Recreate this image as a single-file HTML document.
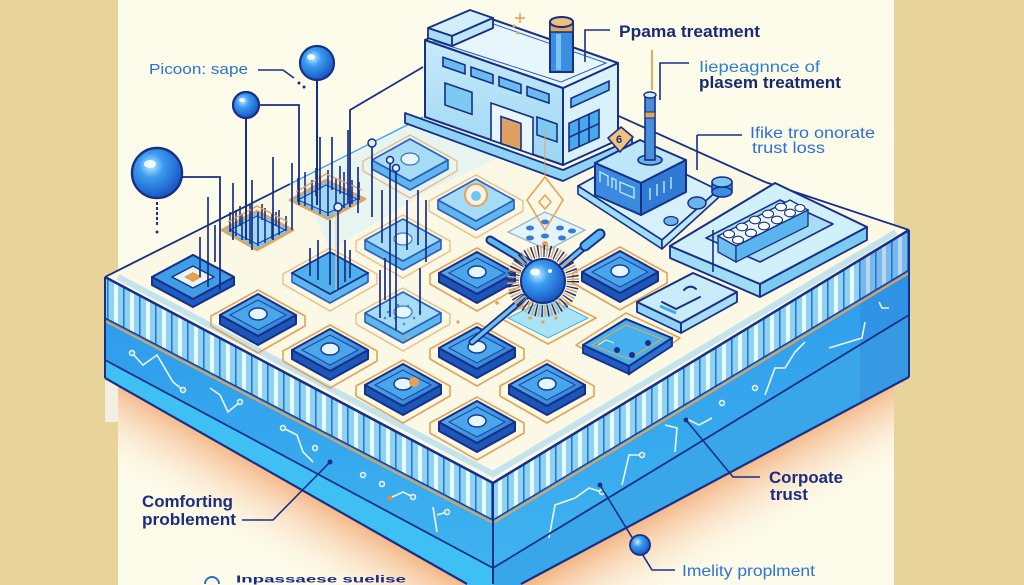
<!DOCTYPE html>
<html><head><meta charset="utf-8"><style>
html,body{margin:0;padding:0;background:#fdfbea;width:1024px;height:585px;overflow:hidden;}
svg{display:block;overflow:hidden}
text{font-family:"Liberation Sans",sans-serif;}
</style></head><body>
<svg width="1024" height="585" viewBox="0 0 1024 585" xmlns="http://www.w3.org/2000/svg">
<defs>
 <pattern id="stripes" patternUnits="userSpaceOnUse" width="16" height="20">
   <rect width="16" height="20" fill="#8fd3f3"/>
   <rect x="2" width="4" height="20" fill="#e8f8fd"/>
   <rect x="11" width="1.6" height="20" fill="#2a78d6"/>
 </pattern>
 <linearGradient id="band" x1="0" y1="0" x2="0" y2="1">
   <stop offset="0" stop-color="#2e9cec"/><stop offset="1" stop-color="#3fb4f0"/>
 </linearGradient>
 <linearGradient id="shL" gradientUnits="userSpaceOnUse" x1="300" y1="489" x2="260" y2="558">
   <stop offset="0" stop-color="#f4b88a"/><stop offset="1" stop-color="#fdfbea" stop-opacity="0"/>
 </linearGradient>
 <linearGradient id="shR" gradientUnits="userSpaceOnUse" x1="700" y1="489" x2="738" y2="558">
   <stop offset="0" stop-color="#f4b88a"/><stop offset="1" stop-color="#fdfbea" stop-opacity="0"/>
 </linearGradient>
 <linearGradient id="tileTop" x1="0" y1="0" x2="1" y2="1">
   <stop offset="0" stop-color="#62b8f0"/><stop offset="1" stop-color="#2a78d4"/>
 </linearGradient>
 <linearGradient id="bldL" x1="0" y1="0" x2="0" y2="1">
   <stop offset="0" stop-color="#c6eafa"/><stop offset="1" stop-color="#9cd6f4"/>
 </linearGradient>
 <radialGradient id="sph" cx="0.38" cy="0.35" r="0.7">
   <stop offset="0" stop-color="#c6ecff"/><stop offset="0.35" stop-color="#3a9cf0"/><stop offset="1" stop-color="#1550c0"/>
 </radialGradient>
 <g id="tile">
  <polygon points="-47,1 0,-25 47,1 47,11 0,38 -47,11" fill="none" stroke="#e2a35a" stroke-width="1.6" stroke-linejoin="round"/>
  <polygon points="-38,0 0,21 38,0 38,9 0,30 -38,9" fill="#1b56b8" stroke="#172f86" stroke-width="2" stroke-linejoin="round"/>
  <polygon points="-38,0 0,-21 38,0 0,21" fill="url(#tileTop)" stroke="#172f86" stroke-width="2" stroke-linejoin="round"/>
  <polygon points="-28,0 0,-15 28,0 0,15" fill="#4aa6ea" stroke="#1d4aa8" stroke-width="1.2"/>
  <ellipse cx="0" cy="-1" rx="9" ry="6" fill="#e6f6ff" stroke="#1a3b9a" stroke-width="1.5"/>
 </g>
 <g id="ltile">
  <polygon points="-47,1 0,-25 47,1 47,11 0,38 -47,11" fill="none" stroke="#e8b070" stroke-width="1.4" stroke-linejoin="round" opacity="0.8"/>
  <polygon points="-38,0 0,21 38,0 38,9 0,30 -38,9" fill="#5fb6ec" stroke="#2a5cc0" stroke-width="1.6" stroke-linejoin="round"/>
  <polygon points="-38,0 0,-21 38,0 0,21" fill="#a6dcf5" stroke="#2a5cc0" stroke-width="1.6" stroke-linejoin="round"/>
  <ellipse cx="0" cy="-1" rx="9" ry="6" fill="#e8f7ff" stroke="#3a72c8" stroke-width="1.2"/>
 </g>
</defs>

<rect width="1024" height="585" fill="#fdfbea"/>
<polygon points="105,378 467,585 250,585 105,490" fill="url(#shL)"/>
<polygon points="521,585 909,377 909,490 730,585" fill="url(#shR)"/>
<rect x="0" y="0" width="118" height="585" fill="#e8d39b"/>
<rect x="894" y="0" width="130" height="585" fill="#e8d39b"/>
<rect x="105" y="376" width="13" height="46" fill="#f4eee0"/>

<polygon points="105,277 493,483 493,520 105,318" fill="url(#stripes)"/>
<polygon points="493,483 909,230 909,270 493,520" fill="url(#stripes)"/>
<polygon points="105,318 493,520 493,585 467,585 105,378" fill="url(#band)"/>
<polygon points="493,520 909,270 909,377 521,585 493,585" fill="url(#band)"/>
<polygon points="105,360 493,568 493,585 467,585 105,378" fill="#3fc0f4"/>
<polygon points="493,568 909,315 909,377 521,585 493,585" fill="#3aa6ea"/>
<polygon points="860,258 909,230 909,377 860,403" fill="#2f6fd0" opacity="0.25"/>
<g fill="none" stroke="#ffffff" stroke-width="1.6" opacity="0.9">
 <polyline points="132,353 143,365 157,355 173,382 183,390"/>
 <polyline points="210,388 220,395 228,412 240,402"/>
 <polyline points="283,428 297,435 303,452 313,462"/>
 <polyline points="390,498 403,492 413,497"/>
 <polyline points="433,507 437,532"/><polyline points="437,515 447,512"/>
 <polyline points="549,538 555,505 575,498 589,488 602,492"/>
 <polyline points="622,485 629,455 642,455"/>
 <polyline points="665,425 677,428 675,452"/>
 <polyline points="685,418 699,425 712,418"/>
 <polyline points="765,395 775,368 785,368 795,352 805,342"/>
 <polyline points="829,348 862,338 865,322"/>
 <polyline points="879,302 882,308 889,308"/>
</g>
<g fill="#3fb0f0" stroke="#ffffff" stroke-width="1.4">
 <circle cx="132" cy="353" r="2.5"/><circle cx="183" cy="390" r="2.5"/><circle cx="240" cy="402" r="2.5"/>
 <circle cx="283" cy="428" r="2.5"/><circle cx="315" cy="448" r="2.5"/><circle cx="363" cy="475" r="2.5"/>
 <circle cx="382" cy="484" r="2.5"/><circle cx="413" cy="497" r="2.5"/><circle cx="447" cy="512" r="2.5"/>
 <circle cx="642" cy="455" r="2.5"/><circle cx="722" cy="403" r="2.5"/><circle cx="755" cy="388" r="2.5"/>
 <circle cx="602" cy="492" r="2.5"/>
</g>
<circle cx="390" cy="498" r="2.5" fill="#e88a40"/>
<g fill="none" stroke-linejoin="round">
 <polyline points="105,318 493,520 909,270" stroke="#1b3a9a" stroke-width="1.4"/>
 <polyline points="105,321 493,523 909,273" stroke="#e0a35a" stroke-width="2"/>
 <polyline points="105,360 493,568 909,315" stroke="#172f86" stroke-width="1.8"/>
 <line x1="105" y1="378" x2="467" y2="584" stroke="#172f86" stroke-width="2.2"/>
 <line x1="521" y1="584" x2="909" y2="377" stroke="#172f86" stroke-width="2.2"/>
 <line x1="105" y1="277" x2="105" y2="378" stroke="#172f86" stroke-width="2"/>
 <line x1="493" y1="483" x2="493" y2="584" stroke="#172f86" stroke-width="2"/>
 <line x1="909" y1="230" x2="909" y2="377" stroke="#172f86" stroke-width="2"/>
</g>

<polygon points="105,277 423,117 470,95 560,75 612,113 765,182 909,230 493,483" fill="#fbf8e6"/>
<polygon points="300,183 423,117 470,95 560,75 600,110 430,190 330,250" fill="#d9f0f8" opacity="0.55"/>
<polyline points="118,277 493,474 896,232" fill="none" stroke="#9fd6f2" stroke-width="6" opacity="0.6"/>
<polyline points="105,277 493,483 909,230" fill="none" stroke="#172f86" stroke-width="2.5" stroke-linejoin="round"/>
<line x1="105" y1="277" x2="290" y2="184" stroke="#172f86" stroke-width="1.8"/>
<line x1="290" y1="184" x2="423" y2="117" stroke="#4aa6ea" stroke-width="1.5"/>
<line x1="612" y1="113" x2="765" y2="182" stroke="#172f86" stroke-width="1.8"/>
<line x1="765" y1="182" x2="909" y2="230" stroke="#172f86" stroke-width="1.8"/>

<polygon points="405,113 563,170 632,139 632,148 563,181 405,123" fill="#8fd2f4" stroke="#172f86" stroke-width="1.8" stroke-linejoin="round"/>
<polygon points="425,40 563,88 563,165 425,117" fill="url(#bldL)" stroke="#172f86" stroke-width="2" stroke-linejoin="round"/>
<polygon points="563,88 618,63 618,140 563,165" fill="#d8f1fb" stroke="#172f86" stroke-width="2" stroke-linejoin="round"/>
<polygon points="425,40 480,15 618,63 563,88" fill="#e6f6fc" stroke="#172f86" stroke-width="2" stroke-linejoin="round"/>
<polygon points="434,41 482,20 606,63 561,82" fill="none" stroke="#2a5cc0" stroke-width="1"/>
<polygon points="428,28 470,10 493,18 452,36" fill="#d0eefb" stroke="#172f86" stroke-width="1.8" stroke-linejoin="round"/>
<polygon points="428,28 452,36 452,46 428,38" fill="#a8dcf5" stroke="#172f86" stroke-width="1.8" stroke-linejoin="round"/>
<polygon points="452,36 493,18 493,28 452,46" fill="#bfe6f8" stroke="#172f86" stroke-width="1.8" stroke-linejoin="round"/>
<g transform="matrix(1,0.348,0,1,425,40)" stroke="#172f86" stroke-width="1.6">
 <rect x="18" y="11" width="22" height="9" fill="#6bbcee" vector-effect="non-scaling-stroke"/>
 <rect x="46" y="11" width="22" height="9" fill="#6bbcee" vector-effect="non-scaling-stroke"/>
 <rect x="74" y="11" width="22" height="9" fill="#6bbcee" vector-effect="non-scaling-stroke"/>
 <rect x="102" y="11" width="22" height="9" fill="#6bbcee" vector-effect="non-scaling-stroke"/>
 <rect x="20" y="36" width="27" height="22" fill="#7ccaf2" vector-effect="non-scaling-stroke"/>
 <rect x="66" y="40" width="42" height="37" fill="#e8f6fc" vector-effect="non-scaling-stroke"/>
 <rect x="76" y="50" width="20" height="27" fill="#e0a060" vector-effect="non-scaling-stroke"/>
 <rect x="112" y="38" width="20" height="18" fill="#7ccaf2" vector-effect="non-scaling-stroke"/>
</g>
<g transform="matrix(1,-0.4545,0,1,563,88)" stroke="#172f86" stroke-width="1.6">
 <rect x="8" y="14" width="38" height="9" fill="#6bbcee" vector-effect="non-scaling-stroke"/>
 <rect x="6" y="38" width="30" height="28" fill="#4aa8ec" vector-effect="non-scaling-stroke"/>
 <line x1="16" y1="38" x2="16" y2="66" vector-effect="non-scaling-stroke"/>
 <line x1="26" y1="38" x2="26" y2="66" vector-effect="non-scaling-stroke"/>
 <line x1="6" y1="52" x2="36" y2="52" vector-effect="non-scaling-stroke"/>
</g>
<rect x="550" y="22" width="23" height="50" fill="#3b8de0" stroke="#172f86" stroke-width="2"/>
<rect x="550" y="22" width="23" height="10" fill="#e3a55e" stroke="#172f86" stroke-width="1.5"/>
<rect x="556" y="34" width="5" height="36" fill="#7cc4f2"/>
<ellipse cx="561.5" cy="22" rx="11.5" ry="5" fill="#f0c080" stroke="#172f86" stroke-width="2"/>
<g stroke="#e8a050" stroke-width="1.5"><line x1="520" y1="13" x2="520" y2="23"/><line x1="515" y1="18" x2="525" y2="18"/></g>
<circle cx="514" cy="26" r="1.5" fill="#e8a050"/><circle cx="518" cy="33" r="1.5" fill="#e8a050"/>

<polygon points="578,186 640,152 718,190 662,240" fill="#d6f1fb" stroke="#172f86" stroke-width="1.8" stroke-linejoin="round"/>
<polygon points="578,186 662,240 662,249 578,194" fill="#9fdcf5" stroke="#172f86" stroke-width="1.6" stroke-linejoin="round"/>
<polygon points="662,240 718,190 718,198 662,249" fill="#bfe8f8" stroke="#172f86" stroke-width="1.6" stroke-linejoin="round"/>
<polygon points="595,163 640,140 686,160 641,183" fill="#bde6f8" stroke="#172f86" stroke-width="2" stroke-linejoin="round"/>
<polygon points="595,163 641,183 641,215 595,195" fill="#3a8be0" stroke="#172f86" stroke-width="2" stroke-linejoin="round"/>
<polygon points="641,183 686,160 686,192 641,215" fill="#2f7ad4" stroke="#172f86" stroke-width="2" stroke-linejoin="round"/>
<g fill="none" stroke="#bfe6fa" stroke-width="1.4">
 <polyline points="600,182 600,172 608,176 608,186"/><polyline points="612,188 612,178 616,180 616,190"/>
 <polyline points="620,192 620,182 634,188 634,198 620,192"/>
 <line x1="650" y1="200" x2="650" y2="188"/><line x1="657" y1="196" x2="657" y2="184"/><line x1="664" y1="193" x2="664" y2="181"/><line x1="671" y1="189" x2="671" y2="177"/>
</g>
<ellipse cx="650" cy="160" rx="12" ry="5" fill="#6ab4ec" stroke="#172f86" stroke-width="1.6"/>
<rect x="645" y="95" width="10" height="65" fill="#4a90d8" stroke="#172f86" stroke-width="1.6"/>
<rect x="645" y="112" width="10" height="6" fill="#e3a55e" stroke="#172f86" stroke-width="1"/>
<ellipse cx="650" cy="95" rx="6" ry="3" fill="#cfeefb" stroke="#172f86" stroke-width="1.4"/>
<line x1="652" y1="50" x2="652" y2="90" stroke="#e8a050" stroke-width="1.8"/>
<polygon points="608,138 621,127 633,137 620,152" fill="#f0c27a" stroke="#172f86" stroke-width="1.6" stroke-linejoin="round"/>
<text x="616" y="143" font-size="11" fill="#172f86" font-weight="bold">6</text>
<rect x="712" y="182" width="20" height="10" fill="#3b8de0" stroke="#172f86" stroke-width="1.5"/>
<ellipse cx="722" cy="192" rx="10" ry="5" fill="#3b8de0" stroke="#172f86" stroke-width="1.5"/>
<ellipse cx="722" cy="182" rx="10" ry="5" fill="#7cc8f2" stroke="#172f86" stroke-width="1.5"/>
<ellipse cx="697" cy="203" rx="9" ry="6" fill="#6ab4ec" stroke="#172f86" stroke-width="1.5"/>
<ellipse cx="671" cy="221" rx="7" ry="4.5" fill="#6ab4ec" stroke="#172f86" stroke-width="1.3"/>
<line x1="697" y1="135" x2="697" y2="170" stroke="#172f86" stroke-width="1.6"/>
<line x1="697" y1="135" x2="742" y2="135" stroke="#172f86" stroke-width="1.6"/>
<polygon points="670,246 760,284 760,297 670,258" fill="#9fdcf5" stroke="#172f86" stroke-width="1.8" stroke-linejoin="round"/>
<polygon points="760,284 867,227 867,240 760,297" fill="#7ccaf0" stroke="#172f86" stroke-width="1.8" stroke-linejoin="round"/>
<polygon points="670,246 775,183 867,227 760,284" fill="#d0f0fb" stroke="#172f86" stroke-width="2" stroke-linejoin="round"/>
<polygon points="706,238 780,200 833,224 760,262" fill="#a8def5" stroke="#172f86" stroke-width="1.6" stroke-linejoin="round"/>
<polygon points="718,252 736,262 736,246 718,236" fill="#6cbff0" stroke="#172f86" stroke-width="1.3"/>
<polygon points="736,246 808,210 808,226 736,262" fill="#5cb4ee" stroke="#172f86" stroke-width="1.3"/>
<polygon points="718,236 790,200 808,210 736,246" fill="#e8f7fd" stroke="#172f86" stroke-width="1.3"/>
<g fill="#ffffff" stroke="#172f86" stroke-width="1.1">
 <ellipse cx="729" cy="234" rx="5.5" ry="3.8"/><ellipse cx="742" cy="227" rx="5.5" ry="3.8"/><ellipse cx="755" cy="220" rx="5.5" ry="3.8"/><ellipse cx="768" cy="214" rx="5.5" ry="3.8"/><ellipse cx="781" cy="207" rx="5.5" ry="3.8"/>
 <ellipse cx="738" cy="240" rx="5.5" ry="3.8"/><ellipse cx="751" cy="233" rx="5.5" ry="3.8"/><ellipse cx="764" cy="226" rx="5.5" ry="3.8"/><ellipse cx="777" cy="220" rx="5.5" ry="3.8"/><ellipse cx="790" cy="213" rx="5.5" ry="3.8"/><ellipse cx="800" cy="208" rx="5" ry="3.5"/>
</g>
<line x1="713" y1="230" x2="713" y2="272" stroke="#172f86" stroke-width="1.6"/>

<use href="#ltile" x="410" y="160"/>
<use href="#ltile" x="476" y="200"/>
<circle cx="476" cy="195" r="11" fill="#fdf3e3" stroke="#e2a35a" stroke-width="2"/>
<circle cx="476" cy="196" r="5" fill="#6cc8f2"/>

<g>
 <polygon points="222,230 257,211 293,230 257,250" fill="#7cc4f0" stroke="#e2a35a" stroke-width="2.5" stroke-linejoin="round"/>
 <polygon points="230,230 257,216 285,230 257,244" fill="#9fd8f4" stroke="#1b3a9a" stroke-width="1"/>
 <polygon points="290,200 326,180 365,199 328,219" fill="#7cc4f0" stroke="#e2a35a" stroke-width="2.5" stroke-linejoin="round"/>
 <polygon points="298,200 326,185 357,199 328,213" fill="#9fd8f4" stroke="#1b3a9a" stroke-width="1"/>
 <g stroke="#172f86" stroke-width="1.6">
  <line x1="230" y1="232" x2="230" y2="212"/><line x1="236" y1="236" x2="236" y2="210"/><line x1="242" y1="240" x2="242" y2="214"/>
  <line x1="250" y1="244" x2="250" y2="205"/><line x1="258" y1="246" x2="258" y2="212"/><line x1="265" y1="243" x2="265" y2="208"/>
  <line x1="272" y1="239" x2="272" y2="214"/><line x1="279" y1="235" x2="279" y2="210"/><line x1="286" y1="231" x2="286" y2="216"/>
  <line x1="240" y1="226" x2="240" y2="206"/><line x1="262" y1="220" x2="262" y2="204"/><line x1="276" y1="226" x2="276" y2="212"/>
  <line x1="298" y1="202" x2="298" y2="178"/><line x1="305" y1="206" x2="305" y2="172"/><line x1="312" y1="210" x2="312" y2="180"/>
  <line x1="320" y1="214" x2="320" y2="176"/><line x1="328" y1="216" x2="328" y2="170"/><line x1="336" y1="212" x2="336" y2="178"/>
  <line x1="344" y1="208" x2="344" y2="172"/><line x1="352" y1="204" x2="352" y2="180"/><line x1="359" y1="200" x2="359" y2="182"/>
  <line x1="316" y1="196" x2="316" y2="168"/><line x1="340" y1="194" x2="340" y2="166"/>
 </g>
 <g stroke="#e2a35a" stroke-width="1.4" fill="none">
  <polyline points="228,222 257,206 288,222"/><polyline points="296,192 326,174 362,190"/>
 </g>
</g>

<use href="#ltile" x="403" y="240"/>
<use href="#ltile" x="330" y="273"/>
<polygon points="330,252 368,273 330,294 292,273" fill="#4fb0ee" stroke="#172f86" stroke-width="1.6"/>
<use href="#ltile" x="403" y="313"/>
<g fill="#3a8ee0">
 <circle cx="388" cy="312" r="1.3"/><circle cx="395" cy="318" r="1.3"/><circle cx="408" cy="306" r="1.3"/><circle cx="414" cy="318" r="1.3"/><circle cx="398" cy="305" r="1.3"/><circle cx="420" cy="312" r="1.3"/><circle cx="404" cy="324" r="1.3"/><circle cx="385" cy="318" r="1.3"/>
</g>

<polygon points="152,277 193,255 234,277 234,285 193,307 152,285" fill="#1d5cc0" stroke="#172f86" stroke-width="2" stroke-linejoin="round"/>
<polygon points="152,277 193,255 234,277 193,299" fill="#3f9de6" stroke="#172f86" stroke-width="2" stroke-linejoin="round"/>
<polygon points="172,277 193,266 214,277 193,288" fill="#e6f4fb" stroke="#172f86" stroke-width="1.4"/>
<polygon points="184,277 193,272 202,277 193,282" fill="#e8a050"/>

<use href="#tile" x="477" y="273"/>
<use href="#tile" x="620" y="272"/>
<use href="#tile" x="258" y="315"/>
<use href="#tile" x="477" y="348"/>
<use href="#tile" x="330" y="350"/>
<use href="#tile" x="403" y="385"/>
<circle cx="414" cy="382" r="5" fill="#e8a050"/>
<use href="#tile" x="547" y="385"/>
<use href="#tile" x="477" y="422"/>

<polygon points="637,302 681,323 681,333 637,312" fill="#8fd2f4" stroke="#172f86" stroke-width="1.8" stroke-linejoin="round"/>
<polygon points="681,323 737,292 737,302 681,333" fill="#a8dcf5" stroke="#172f86" stroke-width="1.8" stroke-linejoin="round"/>
<polygon points="637,302 693,273 737,292 681,323" fill="#c8ecfa" stroke="#172f86" stroke-width="2" stroke-linejoin="round"/>
<g fill="none" stroke="#172f86" stroke-width="2" stroke-linecap="round">
 <polyline points="662,302 676,309 700,297"/><path d="M684,290 q6,-6 12,-1"/>
</g>
<g fill="none" stroke="#4aa6ea" stroke-width="3"><polyline points="660,306 676,313"/></g>

<polygon points="576,345 626,313 680,338 630,374" fill="none" stroke="#e2a35a" stroke-width="1.6" stroke-linejoin="round"/>
<polygon points="583,345 629,366 629,374 583,353" fill="#1d5cc0" stroke="#172f86" stroke-width="1.8"/>
<polygon points="629,366 672,338 672,346 629,374" fill="#2a70d0" stroke="#172f86" stroke-width="1.8"/>
<polygon points="583,345 626,319 672,338 629,366" fill="#45b0f0" stroke="#172f86" stroke-width="2" stroke-linejoin="round"/>
<polygon points="592,345 626,325 662,339 629,359" fill="none" stroke="#e2a35a" stroke-width="1.2"/>
<g fill="#172f86"><circle cx="617" cy="350" r="3"/><circle cx="632" cy="355" r="3"/><circle cx="648" cy="343" r="3"/></g>
<polyline points="598,345 606,340 614,343" fill="none" stroke="#dff4fd" stroke-width="1.2"/>

<polygon points="500,318 548,294 596,318 548,344" fill="none" stroke="#e2a35a" stroke-width="1.6" stroke-linejoin="round"/>
<polygon points="508,318 548,298 588,318 548,338" fill="#a8e4f5" stroke="#4ab0e8" stroke-width="1"/>
<polygon points="508,232 545,212 585,230 548,250" fill="#e4f4fb" stroke="#9bb8d0" stroke-width="1.4"/>
<g fill="#3a7ad0"><ellipse cx="530" cy="228" rx="4" ry="2.5"/><ellipse cx="545" cy="222" rx="4" ry="2.5"/><ellipse cx="560" cy="228" rx="4" ry="2.5"/><ellipse cx="545" cy="236" rx="4" ry="2.5"/><ellipse cx="530" cy="238" rx="4" ry="2.5"/><ellipse cx="562" cy="238" rx="4" ry="2.5"/><ellipse cx="572" cy="231" rx="4" ry="2.5"/></g>
<g fill="none" stroke="#e8a050" stroke-width="1.5" stroke-linejoin="round">
 <line x1="545" y1="130" x2="545" y2="176" opacity="0.6"/>
 <polygon points="527,200 545,177 563,200 545,230"/>
 <polygon points="539,202 545,195 551,202 545,209"/>
</g>
<circle cx="545" cy="244" r="3" fill="#e8a050"/>
<g stroke-linecap="round">
 <line x1="490" y1="240" x2="530" y2="264" stroke="#172f86" stroke-width="9"/>
 <line x1="490" y1="240" x2="530" y2="264" stroke="#5ab4ee" stroke-width="5"/>
 <line x1="600" y1="234" x2="472" y2="342" stroke="#172f86" stroke-width="7"/>
 <line x1="600" y1="234" x2="472" y2="342" stroke="#6cc0f0" stroke-width="3.5"/>
 <line x1="600" y1="234" x2="585" y2="246" stroke="#172f86" stroke-width="11"/>
 <line x1="600" y1="234" x2="585" y2="246" stroke="#5ab4ee" stroke-width="7"/>
</g>
<circle cx="543" cy="281" r="30" fill="none" stroke="#172f86" stroke-width="12" stroke-dasharray="1.4 4.5"/>
<circle cx="543" cy="281" r="30" fill="none" stroke="#e2a35a" stroke-width="12" stroke-dasharray="1.4 4.5" stroke-dashoffset="3"/>
<circle cx="543" cy="281" r="22" fill="url(#sph)" stroke="#172f86" stroke-width="2"/>
<ellipse cx="535" cy="272" rx="5" ry="3.5" fill="#ffffff" opacity="0.9"/>
<circle cx="550" cy="271" r="2" fill="#ffffff"/>
<g fill="#e8a050"><circle cx="530" cy="318" r="1.6"/><circle cx="543" cy="322" r="1.6"/><circle cx="556" cy="318" r="1.6"/><circle cx="497" cy="303" r="1.8"/><circle cx="460" cy="300" r="1.6"/><circle cx="408" cy="337" r="1.6"/><circle cx="458" cy="322" r="1.6"/></g>

<g stroke="#172f86" stroke-width="1.7">
 <line x1="208" y1="197" x2="208" y2="287"/><line x1="200" y1="237" x2="200" y2="277"/><line x1="215" y1="225" x2="215" y2="262"/>
 <line x1="233" y1="183" x2="233" y2="240"/><line x1="252" y1="180" x2="252" y2="250"/><line x1="273" y1="157" x2="273" y2="240"/>
 <line x1="292" y1="163" x2="292" y2="230"/><line x1="320" y1="137" x2="320" y2="190"/><line x1="332" y1="137" x2="332" y2="190"/>
 <line x1="338" y1="211" x2="338" y2="290"/><line x1="330" y1="220" x2="330" y2="285"/><line x1="318" y1="240" x2="318" y2="280"/>
 <line x1="310" y1="248" x2="310" y2="276"/><line x1="345" y1="240" x2="345" y2="282"/><line x1="350" y1="250" x2="350" y2="278"/>
 <line x1="348" y1="130" x2="348" y2="203"/><line x1="358" y1="167" x2="358" y2="213"/><line x1="372" y1="147" x2="372" y2="217"/>
 <line x1="382" y1="190" x2="382" y2="243"/><line x1="390" y1="164" x2="390" y2="317"/><line x1="396" y1="172" x2="396" y2="330"/>
 <line x1="407" y1="200" x2="407" y2="250"/><line x1="418" y1="190" x2="418" y2="245"/><line x1="426" y1="200" x2="426" y2="262"/>
 <line x1="380" y1="270" x2="380" y2="318"/><line x1="385" y1="258" x2="385" y2="300"/><line x1="420" y1="268" x2="420" y2="315"/>
</g>
<g fill="#dff2fc" stroke="#172f86" stroke-width="1.5">
 <circle cx="338" cy="207" r="4"/><circle cx="372" cy="143" r="4"/><circle cx="390" cy="160" r="3.5"/><circle cx="396" cy="168" r="3.5"/>
</g>
<line x1="336" y1="211" x2="336" y2="290" stroke="#e8c890" stroke-width="1"/>

<line x1="317" y1="80" x2="317" y2="205" stroke="#172f86" stroke-width="2"/>
<line x1="246" y1="118" x2="246" y2="240" stroke="#172f86" stroke-width="2"/>
<polyline points="259,105 299,105 299,205" fill="none" stroke="#172f86" stroke-width="1.8"/>
<polyline points="182,177 220,177 220,290" fill="none" stroke="#172f86" stroke-width="1.8"/>
<line x1="157" y1="202" x2="157" y2="225" stroke="#172f86" stroke-width="2" stroke-dasharray="3 2"/>
<circle cx="157" cy="232" r="1.5" fill="#172f86"/>
<polyline points="350,207 350,110 423,67" fill="none" stroke="#172f86" stroke-width="1.8"/>
<circle cx="317" cy="63" r="17" fill="url(#sph)" stroke="#172f86" stroke-width="2.2"/>
<ellipse cx="311" cy="57" rx="4" ry="3" fill="#ffffff" opacity="0.85"/>
<circle cx="246" cy="105" r="13" fill="url(#sph)" stroke="#172f86" stroke-width="2.2"/>
<ellipse cx="242" cy="100" rx="3" ry="2" fill="#ffffff" opacity="0.85"/>
<circle cx="157" cy="173" r="25" fill="url(#sph)" stroke="#172f86" stroke-width="2.4"/>
<ellipse cx="150" cy="164" rx="6" ry="4" fill="#ffffff" opacity="0.85"/>

<g fill="none" stroke="#172f86" stroke-width="1.6">
 <polyline points="258,70 283,70 294,78"/>
 <polyline points="610,30 585,30 585,62"/>
 <polyline points="689,63 660,63 660,100"/>
 <polyline points="242,520 273,520 330,462"/>
 <polyline points="760,477 733,477 686,420"/>
 <polyline points="675,570 652,570 600,485"/>
</g>
<circle cx="299" cy="83" r="1.5" fill="#172f86"/><circle cx="304" cy="87" r="1.5" fill="#172f86"/>
<circle cx="330" cy="462" r="2.5" fill="#172f86"/><circle cx="686" cy="420" r="2.5" fill="#172f86"/><circle cx="600" cy="485" r="2.5" fill="#172f86"/>
<circle cx="640" cy="545" r="10" fill="url(#sph)" stroke="#172f86" stroke-width="1.8"/>
<path d="M205,584 A7,7 0 0 1 219,584" fill="none" stroke="#2a6fd0" stroke-width="2"/>

<text x="149" y="74" font-size="15" fill="#2a74d4" textLength="99" lengthAdjust="spacingAndGlyphs">Picoon: sape</text>
<text x="619" y="37" font-size="17" fill="#1a2a7a" font-weight="bold" textLength="141" lengthAdjust="spacingAndGlyphs">Ppama treatment</text>
<text x="699" y="72" font-size="16" fill="#2c7fd8" textLength="121" lengthAdjust="spacingAndGlyphs">Iiepeagnnce of</text>
<text x="699" y="88" font-size="17" fill="#152a6e" font-weight="bold" textLength="142" lengthAdjust="spacingAndGlyphs">plasem treatment</text>
<text x="750" y="138" font-size="16" fill="#2c6fd8" textLength="125" lengthAdjust="spacingAndGlyphs">Ifike tro onorate</text>
<text x="752" y="153" font-size="16" fill="#2c6fd8" textLength="73" lengthAdjust="spacingAndGlyphs">trust loss</text>
<text x="142" y="507" font-size="17" fill="#1c2c80" font-weight="bold" textLength="91" lengthAdjust="spacingAndGlyphs">Comforting</text>
<text x="142" y="525" font-size="17" fill="#1c2c80" font-weight="bold" textLength="94" lengthAdjust="spacingAndGlyphs">problement</text>
<text x="769" y="483" font-size="17" fill="#1c2c80" font-weight="bold" textLength="74" lengthAdjust="spacingAndGlyphs">Corpoate</text>
<text x="770" y="500" font-size="17" fill="#1c2c80" font-weight="bold" textLength="38" lengthAdjust="spacingAndGlyphs">trust</text>
<text x="682" y="576" font-size="16" fill="#2d72d6" textLength="133" lengthAdjust="spacingAndGlyphs">Imelity proplment</text>
<text x="236" y="582.5" font-size="10" fill="#1c2c80" font-weight="bold" textLength="170" lengthAdjust="spacingAndGlyphs">Inpassaese suelise</text>
</svg>
</body></html>
